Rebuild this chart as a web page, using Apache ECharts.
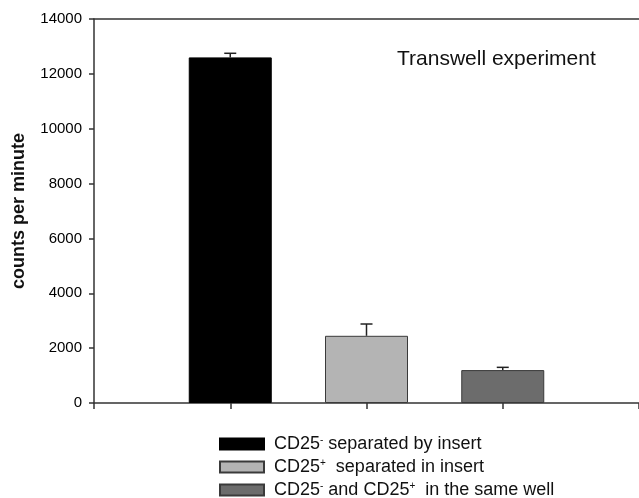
<!DOCTYPE html>
<html>
<head>
<meta charset="utf-8">
<style>
  html, body { margin: 0; padding: 0; background: #fff; }
  #chart { width: 639px; height: 498px; }
</style>
<script src="https://cdn.jsdelivr.net/npm/echarts@6/dist/echarts.min.js"></script>
</head>
<body>
<div id="chart"></div>
<script>
// Axis slots: an empty slot at each end so the three bars sit at 1, 2, 3
const slots = ['', 'neg', 'pos', 'both', ''];
const yTicks = { min: 0, max: 14000, step: 2000 };

// Mean counts per minute and upper error for each condition
const seriesNames = ['CD25- separated by insert', 'CD25+ separated in insert', 'CD25- and CD25+ in the same well'];
const legendRich = [
  '{f|CD25}{s|-}{t| separated by insert}',
  '{f|CD25}{s|+}{t|  separated in insert}',
  '{f|CD25}{s|-}{t| and CD25}{s|+}{t|  in the same well}'
];
const means = [12600, 2450, 1200];
const errors = [150, 430, 100];
const colors = ['#000000', '#b4b4b4', '#6c6c6c'];
const borders = ['#000000', '#3a3a3a', '#3a3a3a'];

const font = 'Liberation Sans, Arial, Helvetica, sans-serif';
const axisColor = '#333';

const barSeries = seriesNames.map((name, i) => {
  const data = slots.map(() => '-');
  data[i + 1] = means[i];
  return {
    name,
    type: 'bar',
    data,
    barWidth: 83,
    barGap: '-100%',
    itemStyle: { color: colors[i], borderColor: borders[i], borderWidth: 1 },
    emphasis: { disabled: true }
  };
});

const errData = means.map((m, i) => [i + 1, m, errors[i]]);

const errorSeries = {
  type: 'custom',
  data: errData,
  z: 5,
  silent: true,
  renderItem(params, api) {
    const x = api.value(0);
    const base = api.coord([x, api.value(1)]);
    const top = api.coord([x, api.value(1) + api.value(2)]);
    const half = 6;
    const style = { stroke: '#222', lineWidth: 1.5 };
    return {
      type: 'group',
      children: [
        { type: 'line', shape: { x1: base[0], y1: base[1], x2: top[0], y2: top[1] }, style },
        { type: 'line', shape: { x1: top[0] - half, y1: top[1], x2: top[0] + half, y2: top[1] }, style }
      ]
    };
  }
};

const textRich = {
  f: { fontFamily: font, fontSize: 18, color: '#111', lineHeight: 17, padding: [0, 0, 0, 5] },
  t: { fontFamily: font, fontSize: 18, color: '#111', lineHeight: 17 },
  s: { fontFamily: font, fontSize: 10, color: '#111', verticalAlign: 'top', lineHeight: 17 }
};

const chart = echarts.init(document.getElementById('chart'), null, { renderer: 'canvas' });
chart.setOption({
  animation: false,
  backgroundColor: '#fff',
  textStyle: { fontFamily: font },
  title: {
    text: 'Transwell experiment',
    left: 397,
    top: 49,
    padding: 0,
    textStyle: { fontFamily: font, fontSize: 21, fontWeight: 'normal', color: '#111' }
  },
  grid: { left: 94, right: -5, top: 19, bottom: 95, containLabel: false },
  xAxis: [
    {
      type: 'category',
      data: slots,
      boundaryGap: false,
      axisLine: { lineStyle: { color: axisColor, width: 1.5 } },
      axisTick: { show: true, length: 6, lineStyle: { color: axisColor, width: 1.5 } },
      axisLabel: { show: false },
      splitLine: { show: false }
    },
    {
      type: 'category',
      data: slots,
      position: 'top',
      boundaryGap: false,
      axisLine: { lineStyle: { color: axisColor, width: 1.5 } },
      axisTick: { show: false },
      axisLabel: { show: false }
    }
  ],
  yAxis: {
    type: 'value',
    min: yTicks.min,
    max: yTicks.max,
    interval: yTicks.step,
    name: 'counts per minute',
    nameLocation: 'middle',
    nameRotate: 90,
    nameGap: 66,
    nameTextStyle: { fontFamily: font, fontSize: 18, fontWeight: 'bold', color: '#111' },
    axisLine: { show: true, lineStyle: { color: axisColor, width: 1.5 } },
    axisTick: { show: true, length: 5, lineStyle: { color: axisColor, width: 1.5 } },
    axisLabel: { fontFamily: font, fontSize: 15, color: '#000', margin: 12, formatter: v => String(v) },
    splitLine: { show: false }
  },
  legend: {
    orient: 'vertical',
    left: 219,
    top: 435,
    height: 90,
    padding: 0,
    itemWidth: 44,
    itemHeight: 11,
    itemGap: 5,
    icon: 'rect',
    selectedMode: false,
    data: seriesNames,
    formatter: name => legendRich[seriesNames.indexOf(name)],
    textStyle: { fontFamily: font, fontSize: 18, color: '#111', rich: textRich }
  },
  series: [...barSeries, errorSeries]
});
</script>
</body>
</html>
